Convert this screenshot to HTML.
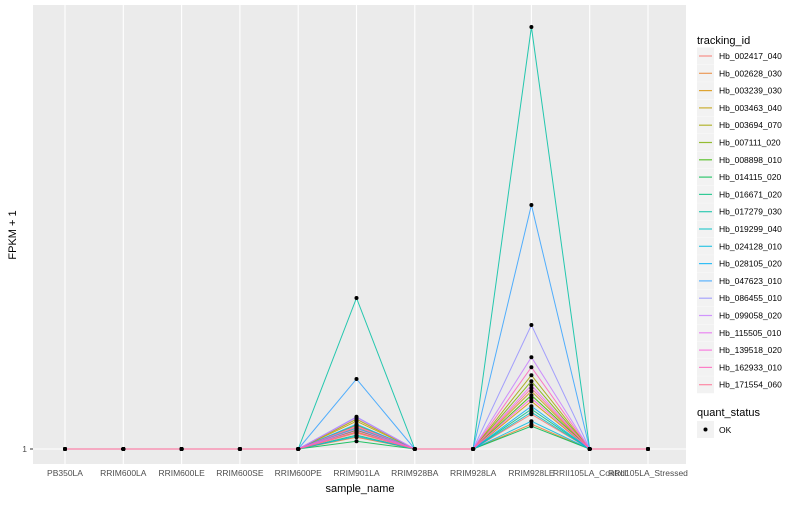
<!DOCTYPE html>
<html><head><meta charset="utf-8"><style>
body{margin:0;background:#fff;font-family:"Liberation Sans",sans-serif}
svg text{font-family:"Liberation Sans",sans-serif}
</style></head><body>
<svg id="c" width="800" height="500" xmlns="http://www.w3.org/2000/svg">
<rect x="0" y="0" width="800" height="500" fill="#fff"/>
<rect x="33" y="5" width="653" height="459" fill="#EBEBEB"/>
<g id="grid"></g><g id="lines"></g><g id="pts"></g><g id="axes"></g><g id="legend"></g>
<text x="360" y="492" text-anchor="middle" font-size="11" fill="#000">sample_name</text>
<text transform="translate(16,235) rotate(-90)" text-anchor="middle" font-size="11" fill="#000">FPKM + 1</text>
</svg>
<script>
const categories=["PB350LA","RRIM600LA","RRIM600LE","RRIM600SE","RRIM600PE","RRIM901LA","RRIM928BA","RRIM928LA","RRIM928LE","RRII105LA_Control","RRII105LA_Stressed"];
const series=["Hb_002417_040","Hb_002628_030","Hb_003239_030","Hb_003463_040","Hb_003694_070","Hb_007111_020","Hb_008898_010","Hb_014115_020","Hb_016671_020","Hb_017279_030","Hb_019299_040","Hb_024128_010","Hb_028105_020","Hb_047623_010","Hb_086455_010","Hb_099058_020","Hb_115505_010","Hb_139518_020","Hb_162933_010","Hb_171554_060"];
const colors=["#F8766D","#EA8331","#D89000","#C09B00","#A3A500","#7CAE00","#39B600","#00BB4E","#00BF7D","#00C1A3","#00BFC4","#00BAE0","#00B0F6","#35A2FF","#9590FF","#C77CFF","#E76BF3","#FA62DB","#FF62BC","#FF6C91"];
// FPKM+1 at RRIM901LA and RRIM928LE per series; all other samples = 1
const val901=[110,60,85,140,150,120,95,40,70,756,105,65,125,351,162,158,100,90,115,80];
const val928=[175,125,240,290,370,340,270,115,200,2111,185,140,215,1221,621,460,320,255,410,305];
const yTicks=[1];
const x0=65,dx=58.3;
const xs=i=>x0+i*dx;
const ys=v=>449-(v-1)*0.2;
const NS="http://www.w3.org/2000/svg";
function mk(t,a,p){const e=document.createElementNS(NS,t);for(const k in a)e.setAttribute(k,a[k]);p.appendChild(e);return e;}
const grid=document.getElementById('grid'),L=document.getElementById('lines'),P=document.getElementById('pts'),A=document.getElementById('axes'),G=document.getElementById('legend');
categories.forEach((c,i)=>{
 const g=mk('line',{x1:xs(i),x2:xs(i),y1:5,y2:464,stroke:'#fff','stroke-width':1.1},grid);
 
 
 const t=mk('text',{x:xs(i),y:476,'text-anchor':'middle','font-size':8.5,fill:'#4D4D4D'},A);t.textContent=c;
 
 
});
yTicks.forEach(v=>{
 const g=mk('line',{x1:33,x2:686,y1:ys(v),y2:ys(v),stroke:'#fff','stroke-width':1.1},grid);
 
 
 const t=mk('text',{x:27,y:ys(v)+3,'text-anchor':'end','font-size':8.5,fill:'#4D4D4D'},A);t.textContent=v;
 
 
 mk('line',{x1:30,x2:33,y1:ys(v),y2:ys(v),stroke:'#333'},A);
});
function vals(s){return categories.map((c,i)=>i==5?val901[s]:i==8?val928[s]:1);}
series.forEach((s,k)=>{
 const v=vals(k);
 const pl=mk('polyline',{points:v.map((y,i)=>xs(i)+','+ys(y)).join(' '),fill:'none',stroke:colors[k],'stroke-width':1,'stroke-opacity':0.85},L);
 
 
});
series.forEach((s,k)=>{
 vals(k).forEach((y,i)=>{
  const p=mk('circle',{cx:xs(i),cy:ys(y),r:2,fill:'#000'},P);
  
  
 });
});
const tt=mk('text',{x:697,y:44,'font-size':11,fill:'#000'},G);tt.textContent='tracking_id';


series.forEach((s,k)=>{
 const cy=56+k*17.3;
 const g=mk('g',{},G);
 
 
 mk('rect',{x:697,y:cy-8.5,width:17,height:17,fill:'#F2F2F2'},g);
 mk('line',{x1:699,x2:712,y1:cy,y2:cy,stroke:colors[k],'stroke-opacity':0.8,'stroke-width':1.2},g);
 const t=mk('text',{x:719,y:cy+3,'font-size':8.5,fill:'#000'},g);t.textContent=s;
});
const qt=mk('text',{x:697,y:416,'font-size':11,fill:'#000'},G);qt.textContent='quant_status';


const qg=mk('g',{},G);


mk('rect',{x:697,y:421,width:17,height:17,fill:'#F2F2F2'},qg);
mk('circle',{cx:705.5,cy:429.5,r:2,fill:'#000'},qg);
const ok=mk('text',{x:719,y:433,'font-size':8.5,fill:'#000'},qg);ok.textContent='OK';
</script>
</body></html>
